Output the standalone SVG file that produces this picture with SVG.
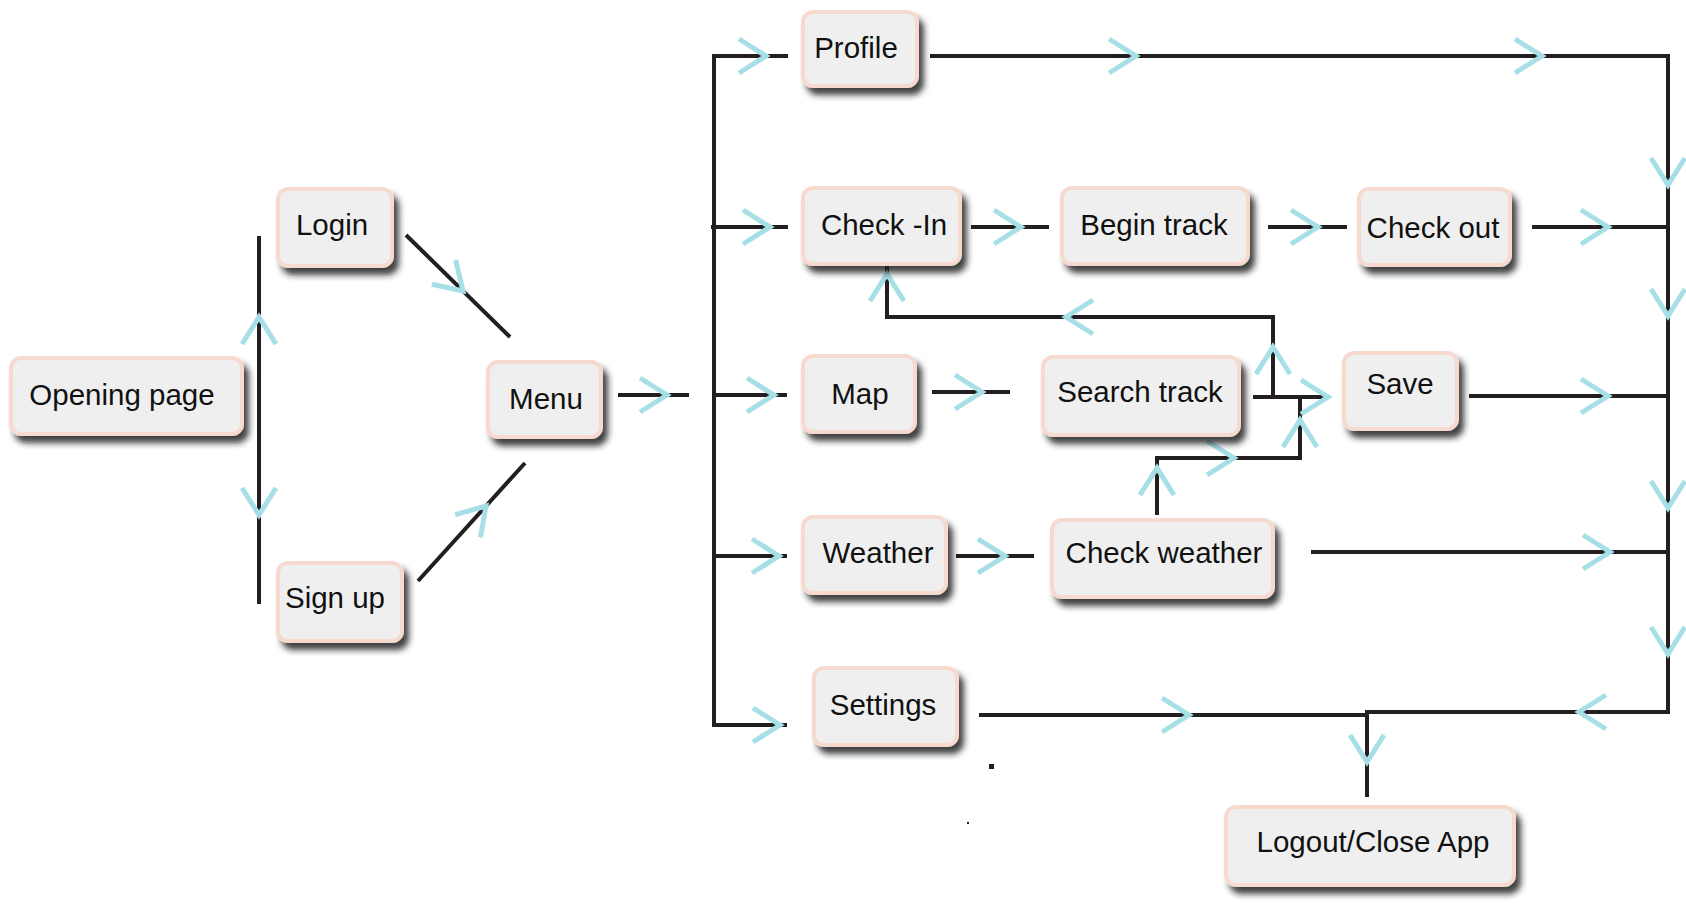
<svg xmlns="http://www.w3.org/2000/svg" xmlns:xlink="http://www.w3.org/1999/xlink" width="1686" height="910" viewBox="0 0 1686 910">
<style>
.box{fill:#efefef;stroke:#f7dacf;stroke-width:4;filter:url(#sh)}
.lbl{font-family:"Liberation Sans",Arial,sans-serif;font-size:29.5px;fill:#111;text-anchor:middle}
.ln{fill:none;stroke:#231f20;stroke-width:4}
.ch{fill:none;stroke:#a7dfe7;stroke-width:5}
</style>
<defs>
<filter id="sh" x="-20%" y="-20%" width="150%" height="160%">
<feDropShadow dx="5" dy="7" stdDeviation="3.2" flood-color="#1a1a1a" flood-opacity="0.85"/>
</filter>
<path id="chev" d="M-27,-17 L0,0 L-27,17"/>
</defs>
<rect width="1686" height="910" fill="#fff"/>

<g id="connectors">
<path class="ln" d="M259,236 V604"/>
<path class="ln" d="M406,235 L510,337"/>
<path class="ln" d="M418,581 L525,463"/>
<path class="ln" d="M618,395 H689"/>
<path class="ln" d="M714,54 V727"/>
<path class="ln" d="M712,56 H788"/>
<path class="ln" d="M711,227 H788"/>
<path class="ln" d="M714,395 H787"/>
<path class="ln" d="M714,556 H787"/>
<path class="ln" d="M712,725 H787"/>
<path class="ln" d="M930,56 H1668 V714"/>
<path class="ln" d="M971,227 H1049"/>
<path class="ln" d="M1268,227 H1347"/>
<path class="ln" d="M1532,227 H1668"/>
<path class="ln" d="M932,392 H1010"/>
<path class="ln" d="M1253,397 H1330"/>
<path class="ln" d="M1469,396 H1668"/>
<path class="ln" d="M1273,397 V317 H887 V266"/>
<path class="ln" d="M1157,515 V458 H1300 V397"/>
<path class="ln" d="M956,556 H1034"/>
<path class="ln" d="M1311,552 H1668"/>
<path class="ln" d="M979,715 H1367"/>
<path class="ln" d="M1365,712 H1668"/>
<path class="ln" d="M1367,712 V797"/>
<rect x="989" y="764" width="5" height="5" fill="#231f20"/>
<rect x="967" y="822" width="2" height="2" fill="#231f20"/>

<g class="ch">
<use xlink:href="#chev" transform="translate(259,317) rotate(-90)"/>
<use xlink:href="#chev" transform="translate(259,515) rotate(90)"/>
<use xlink:href="#chev" transform="translate(463,291) rotate(44.4)"/>
<use xlink:href="#chev" transform="translate(486,506) rotate(-47.8)"/>
<use xlink:href="#chev" transform="translate(667,395)"/>
<use xlink:href="#chev" transform="translate(766,56)"/>
<use xlink:href="#chev" transform="translate(770,227)"/>
<use xlink:href="#chev" transform="translate(774,395)"/>
<use xlink:href="#chev" transform="translate(779,556)"/>
<use xlink:href="#chev" transform="translate(780,725)"/>
<use xlink:href="#chev" transform="translate(1136,56)"/>
<use xlink:href="#chev" transform="translate(1542,56)"/>
<use xlink:href="#chev" transform="translate(1021,227)"/>
<use xlink:href="#chev" transform="translate(1318,227)"/>
<use xlink:href="#chev" transform="translate(1608,227)"/>
<use xlink:href="#chev" transform="translate(982,392)"/>
<use xlink:href="#chev" transform="translate(1328,397)"/>
<use xlink:href="#chev" transform="translate(1608,396)"/>
<use xlink:href="#chev" transform="translate(1005,556)"/>
<use xlink:href="#chev" transform="translate(1610,552)"/>
<use xlink:href="#chev" transform="translate(1273,347) rotate(-90)"/>
<use xlink:href="#chev" transform="translate(1066,317) rotate(180)"/>
<use xlink:href="#chev" transform="translate(887,274) rotate(-90)"/>
<use xlink:href="#chev" transform="translate(1157,468) rotate(-90)"/>
<use xlink:href="#chev" transform="translate(1234,458)"/>
<use xlink:href="#chev" transform="translate(1300,420) rotate(-90)"/>
<use xlink:href="#chev" transform="translate(1668,185) rotate(90)"/>
<use xlink:href="#chev" transform="translate(1668,316) rotate(90)"/>
<use xlink:href="#chev" transform="translate(1668,508) rotate(90)"/>
<use xlink:href="#chev" transform="translate(1668,654) rotate(90)"/>
<use xlink:href="#chev" transform="translate(1189,715)"/>
<use xlink:href="#chev" transform="translate(1579,712) rotate(180)"/>
<use xlink:href="#chev" transform="translate(1367,762) rotate(90)"/>
</g>
</g>

<g id="opening-page"><rect class="box" x="11" y="358" width="231" height="76" rx="10"/><text class="lbl" x="122" y="405">Opening page</text></g>
<g id="login"><rect class="box" x="278" y="189" width="114" height="77" rx="10"/><text class="lbl" x="332" y="235">Login</text></g>
<g id="menu"><rect class="box" x="488" y="362" width="113" height="75" rx="10"/><text class="lbl" x="546" y="409">Menu</text></g>
<g id="sign-up"><rect class="box" x="278" y="563" width="124" height="78" rx="10"/><text class="lbl" x="335" y="608">Sign up</text></g>
<g id="profile"><rect class="box" x="803" y="12" width="114" height="74" rx="10"/><text class="lbl" x="856" y="58">Profile</text></g>
<g id="check-in"><rect class="box" x="803" y="188" width="157" height="76" rx="10"/><text class="lbl" x="884" y="235">Check -In</text></g>
<g id="begin-track"><rect class="box" x="1062" y="188" width="186" height="76" rx="10"/><text class="lbl" x="1154" y="235">Begin track</text></g>
<g id="check-out"><rect class="box" x="1359" y="189" width="151" height="76" rx="10"/><text class="lbl" x="1433" y="238">Check out</text></g>
<g id="map"><rect class="box" x="803" y="356" width="112" height="76" rx="10"/><text class="lbl" x="860" y="404">Map</text></g>
<g id="search-track"><rect class="box" x="1043" y="357" width="196" height="78" rx="10"/><text class="lbl" x="1140" y="402">Search track</text></g>
<g id="save"><rect class="box" x="1344" y="353" width="113" height="76" rx="10"/><text class="lbl" x="1400" y="394">Save</text></g>
<g id="weather"><rect class="box" x="803" y="517" width="143" height="76" rx="10"/><text class="lbl" x="878" y="563">Weather</text></g>
<g id="check-weather"><rect class="box" x="1052" y="520" width="221" height="77" rx="10"/><text class="lbl" x="1164" y="563">Check weather</text></g>
<g id="settings"><rect class="box" x="814" y="668" width="143" height="77" rx="10"/><text class="lbl" x="883" y="715">Settings</text></g>
<g id="logout"><rect class="box" x="1226" y="807" width="288" height="78" rx="10"/><text class="lbl" x="1373" y="852">Logout/Close App</text></g>
</svg>
